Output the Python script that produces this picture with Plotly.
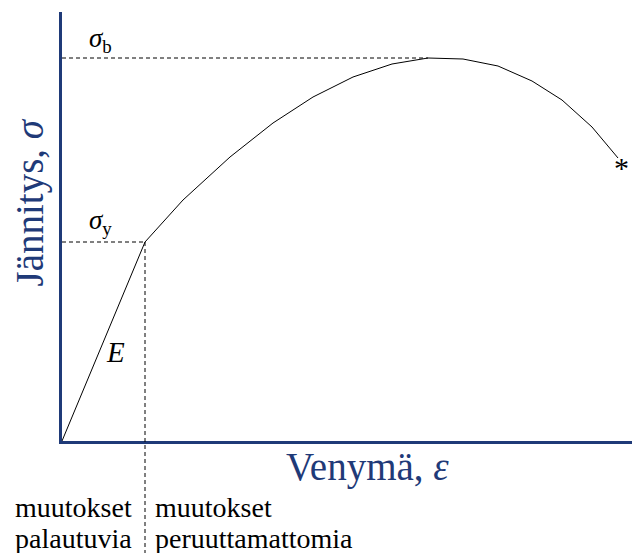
import plotly.graph_objects as go

# Stress-strain curve (arbitrary units)
strain = [0, 83, 121, 168, 211, 251, 291, 330, 366, 401, 436, 470, 500, 530, 556]
stress = [0, 199, 241, 284, 318, 344, 364, 377, 383, 382, 375, 360, 341, 314, 283]

yield_idx = 1      # index of yield point
peak_idx = 8       # index of ultimate strength

x_range = [0, 578]
y_range = [0, 429]

NAVY = "#1F3A78"
SERIF = "Liberation Serif"

fig = go.Figure()
fig.add_trace(go.Scatter(x=strain, y=stress, mode="lines",
                         line=dict(color="black", width=1), hoverinfo="skip"))

xy, yy = strain[yield_idx], stress[yield_idx]
xp, yp = strain[peak_idx], stress[peak_idx]
dash = dict(color="black", width=1, dash="4px,3px")

fig.add_shape(type="line", x0=0, x1=xp, y0=yp, y1=yp, xref="x", yref="y", line=dash)
fig.add_shape(type="line", x0=0, x1=xy, y0=yy, y1=yy, xref="x", yref="y", line=dash)
fig.add_shape(type="line", x0=xy, x1=xy, y0=yy / y_range[1], y1=-112 / 429,
              xref="x", yref="paper", line=dash)

ann = []
ann.append(dict(x=xy * 0.45, y=yp, xref="x", yref="y", text="<i>σ</i><sub>b</sub>",
                showarrow=False, font=dict(family=SERIF, size=27, color="black"),
                xshift=1, yshift=18))
ann.append(dict(x=xy * 0.45, y=yy, xref="x", yref="y", text="<i>σ</i><sub>y</sub>",
                showarrow=False, font=dict(family=SERIF, size=27, color="black"),
                xshift=1, yshift=20))
ann.append(dict(x=xy * 0.65, y=yy * 0.44, xref="x", yref="y", text="<i>E</i>",
                showarrow=False, font=dict(family=SERIF, size=29, color="black"),
                yshift=1))
ann.append(dict(x=strain[-1], y=stress[-1], xref="x", yref="y", text="*",
                showarrow=False, font=dict(family=SERIF, size=30, color="black"),
                xshift=3, yshift=-9))
ann.append(dict(x=0.5, y=0, xref="paper", yref="paper", text="Venymä, <i>ε</i>",
                showarrow=False, font=dict(family=SERIF, size=39, color=NAVY),
                yanchor="middle", xshift=16, yshift=-26))
ann.append(dict(x=0, y=0.5, xref="paper", yref="paper", text="Jännitys, <i>σ</i>",
                showarrow=False, font=dict(family=SERIF, size=39, color=NAVY),
                textangle=-90, xanchor="center", xshift=-33, yshift=24))
for txt, dy, side in [("muutokset", -66, "left"), ("palautuvia", -97, "left"),
                      ("muutokset", -66, "right"), ("peruuttamattomia", -97, "right")]:
    ann.append(dict(x=xy, y=0, xref="x", yref="paper", text=txt, showarrow=False,
                    font=dict(family=SERIF, size=28, color="black"),
                    xanchor="right" if side == "left" else "left",
                    xshift=-11 if side == "left" else 8,
                    yanchor="middle", yshift=dy))

# page body has an 8px default margin: shift the figure accordingly
fig.update_layout(
    width=632, height=545,
    margin=dict(l=54, r=0, t=4, b=112),
    font=dict(family=SERIF, color="black"),
    paper_bgcolor="white", plot_bgcolor="white",
    showlegend=False,
    annotations=ann,
    xaxis=dict(range=x_range, showgrid=False, zeroline=False, showticklabels=False,
               ticks="", showline=True, linecolor=NAVY, linewidth=2.5, fixedrange=True),
    yaxis=dict(range=y_range, showgrid=False, zeroline=False, showticklabels=False,
               ticks="", showline=True, linecolor=NAVY, linewidth=2.5, fixedrange=True),
)

fig.write_html("out.html")
